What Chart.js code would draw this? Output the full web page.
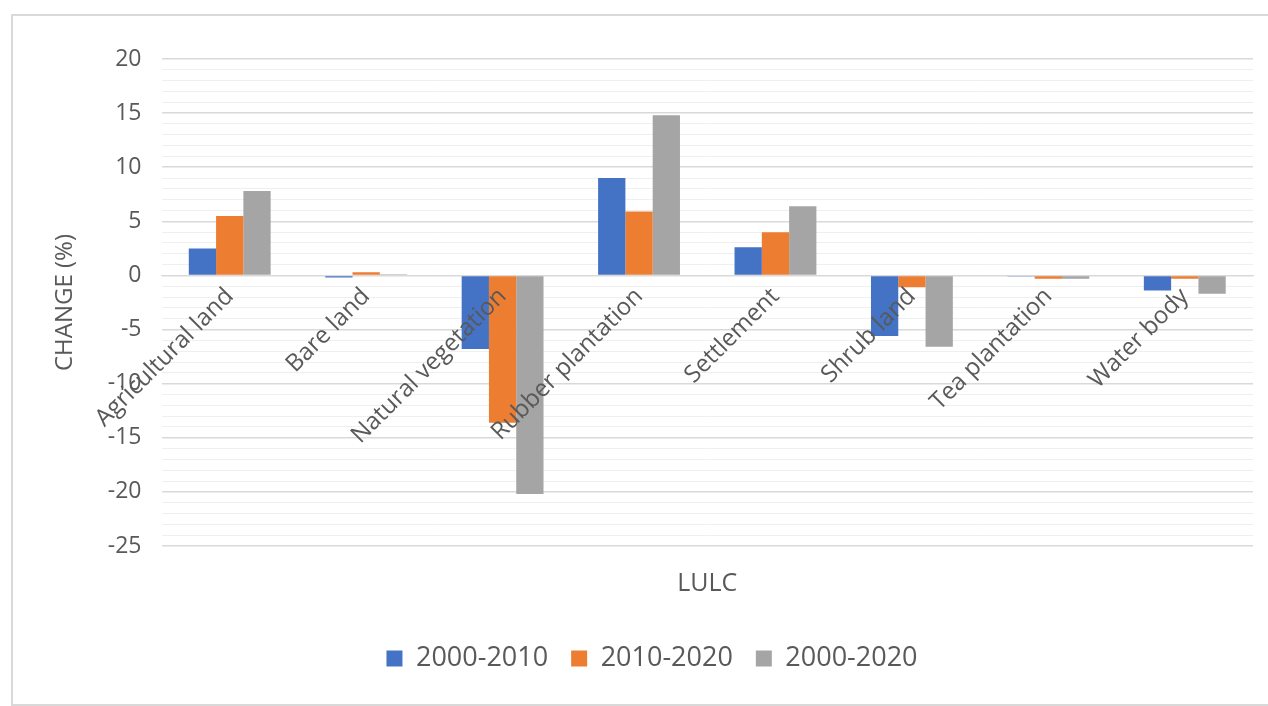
<!DOCTYPE html>
<html>
<head>
<meta charset="utf-8">
<script src="https://cdn.jsdelivr.net/npm/chart.js@4.4.1/dist/chart.umd.min.js"></script>
<style>
  html, body { margin: 0; padding: 0; background: #fff; }
  #wrap { width: 1268px; height: 706px; }
</style>
</head>
<body>
<div id="wrap"><canvas id="lulcChart"></canvas></div>
<script>
const categories = ['Agricultural land', 'Bare land', 'Natural vegetation', 'Rubber plantation',
    'Settlement', 'Shrub land', 'Tea plantation', 'Water body'];
const change2000to2010 = [2.5, -0.2, -6.8, 9.0, 2.6, -5.6, -0.1, -1.4];
const change2010to2020 = [5.5, 0.3, -13.6, 5.9, 4.0, -1.1, -0.3, -0.3];
const change2000to2020 = [7.8, 0.1, -20.2, 14.8, 6.4, -6.6, -0.3, -1.7];
const yTicks = [-25, -20, -15, -10, -5, 0, 5, 10, 15, 20];

const textColor = '#595959';
const family = "'Open Sans', sans-serif";

// thin frame round the chart, like an office chart border
const framePlugin = {
    id: 'frame',
    beforeDraw(chart) {
        const c = chart.ctx;
        c.save();
        c.strokeStyle = '#d9d9d9';
        c.lineWidth = 2;
        c.beginPath();
        c.moveTo(chart.width, 15);
        c.lineTo(12, 15);
        c.lineTo(12, 705);
        c.lineTo(chart.width, 705);
        c.stroke();
        c.restore();
    }
};

const ctx = document.getElementById('lulcChart').getContext('2d');

const lulcChart = new Chart(ctx, {
    type: 'bar',
    data: {
        labels: categories,
        datasets: [
            { label: '2000-2010', data: change2000to2010, backgroundColor: '#4472C4' },
            { label: '2010-2020', data: change2010to2020, backgroundColor: '#ED7D31' },
            { label: '2000-2020', data: change2000to2020, backgroundColor: '#A5A5A5' }
        ]
    },
    options: {
        responsive: true,
        maintainAspectRatio: false,
        animation: false,
        categoryPercentage: 0.6,
        barPercentage: 1.0,
        layout: {
            autoPadding: false,
            padding: { top: 59, right: 15, left: 51, bottom: 24 }
        },
        scales: {
            x: {
                position: { y: 0 },
                grid: { display: false, drawTicks: false },
                border: { display: true, color: '#d9d9d9', width: 1 },
                ticks: {
                    z: 1, // category names sit on top of the bars
                    color: textColor,
                    font: { family: family, size: 24 },
                    minRotation: 45,
                    maxRotation: 45,
                    autoSkip: false,
                    padding: 7
                }
            },
            x2: {
                type: 'category',
                labels: categories,
                position: 'bottom',
                grid: { display: false },
                border: { display: false },
                ticks: { display: false },
                title: {
                    display: true,
                    text: 'LULC',
                    color: textColor,
                    font: { family: family, size: 25 },
                    padding: { top: 15, bottom: 23 }
                }
            },
            y: {
                min: -25,
                max: 20,
                border: { display: false },
                grid: {
                    drawTicks: false,
                    color: c => (c.tick.value % 5 === 0 ? '#d9d9d9' : '#efefef'),
                    lineWidth: c => (c.tick.value % 5 === 0 ? 1.6 : 1)
                },
                ticks: {
                    stepSize: 1,
                    autoSkip: false,
                    color: textColor,
                    font: { family: family, size: 23 },
                    padding: 20,
                    callback: v => (yTicks.includes(v) ? v : '')
                },
                title: {
                    display: true,
                    text: 'CHANGE (%)',
                    color: textColor,
                    font: { family: family, size: 24 },
                    padding: { top: 0, bottom: 8 }
                }
            }
        },
        plugins: {
            legend: {
                display: true,
                position: 'bottom',
                labels: {
                    color: textColor,
                    font: { family: family, size: 27 },
                    boxWidth: 16,
                    boxHeight: 16,
                    padding: 23
                }
            },
            tooltip: { enabled: false }
        }
    },
    plugins: [framePlugin]
});
</script>
</body>
</html>
